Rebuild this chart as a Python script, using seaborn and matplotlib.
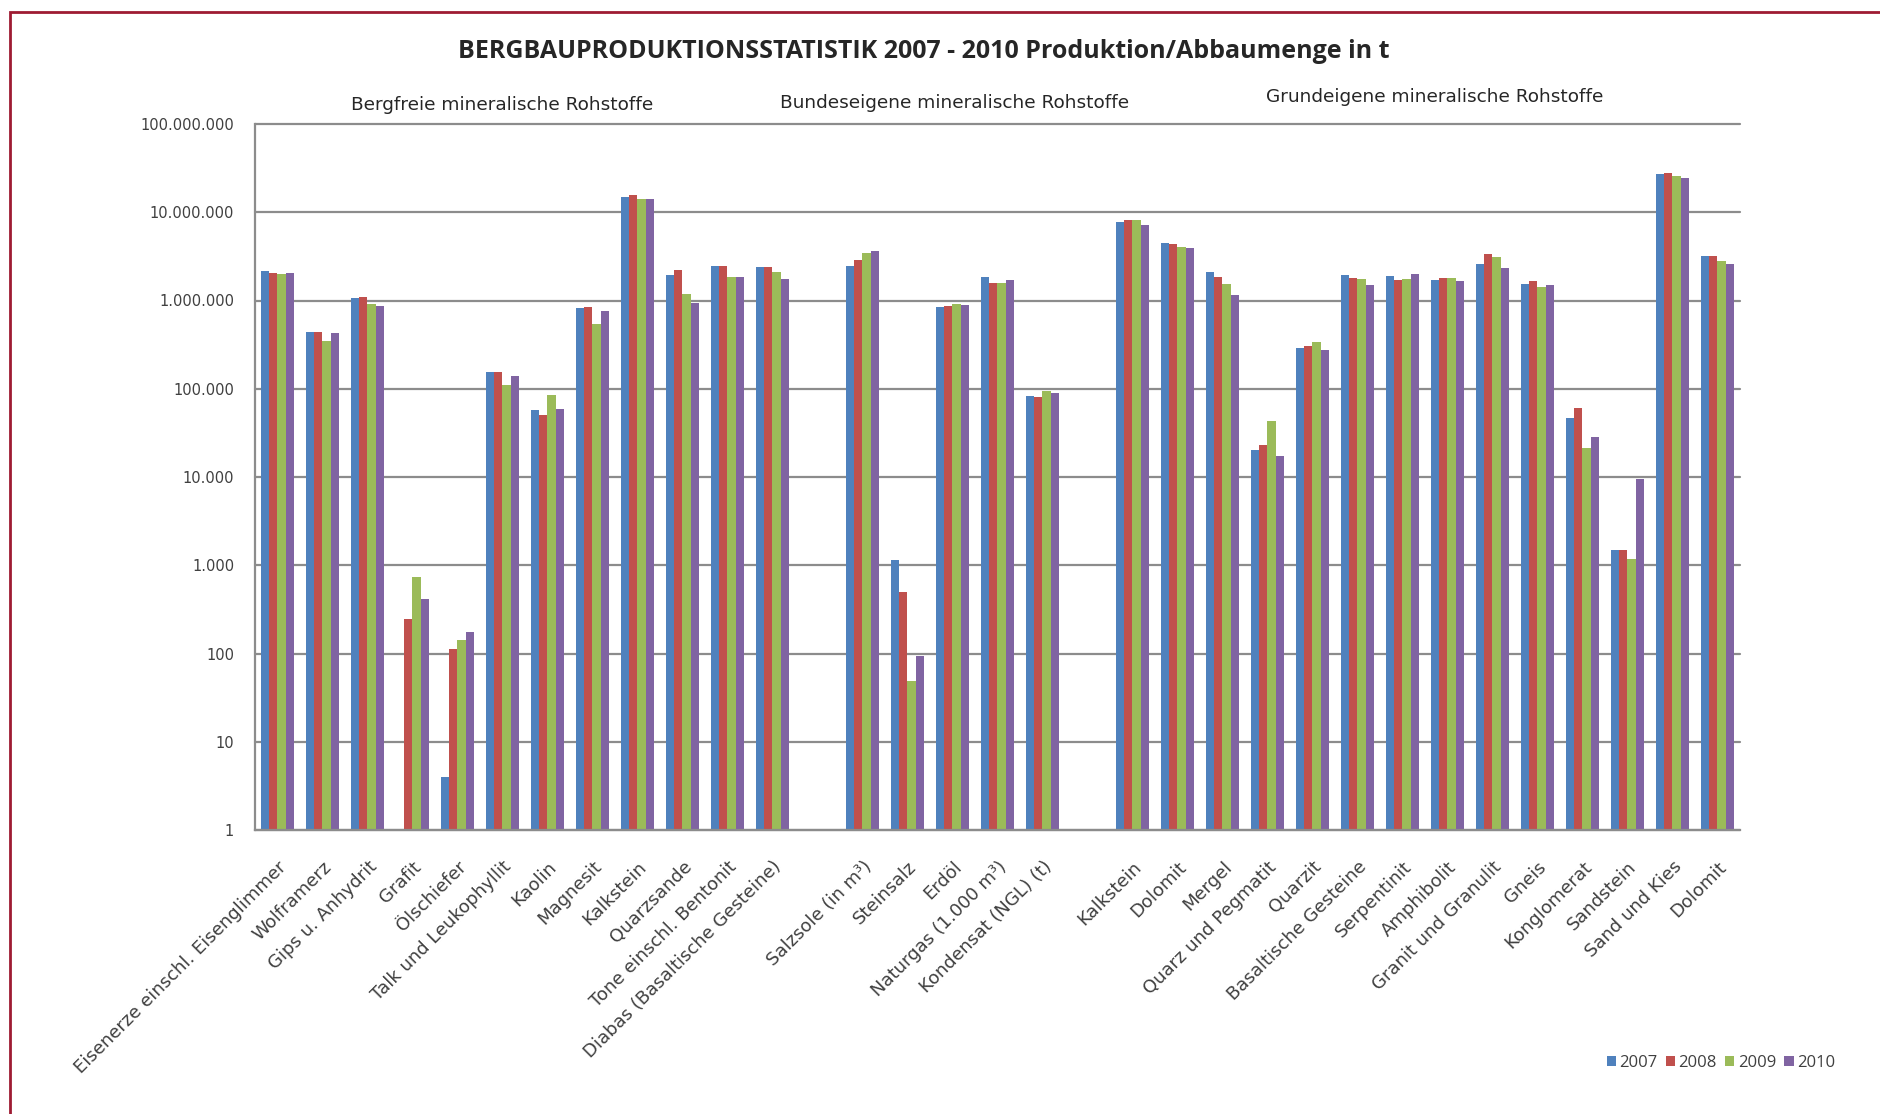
import numpy as np
import pandas as pd
import matplotlib
matplotlib.use("Agg")
import matplotlib.pyplot as plt
from matplotlib.ticker import FixedLocator, FuncFormatter, NullLocator
from matplotlib.patches import Rectangle
import seaborn as sns

# categories per group (empty slot between groups)
bergfrei = ["Eisenerze einschl. Eisenglimmer", "Wolframerz", "Gips u. Anhydrit", "Grafit",
            "Ölschiefer", "Talk und Leukophyllit", "Kaolin", "Magnesit", "Kalkstein",
            "Quarzsande", "Tone einschl. Bentonit", "Diabas (Basaltische Gesteine)"]
bundeseigen = ["Salzsole (in m³)", "Steinsalz", "Erdöl", "Naturgas (1.000 m³)", "Kondensat (NGL) (t)"]
grundeigen = ["Kalkstein", "Dolomit", "Mergel", "Quarz und Pegmatit", "Quarzit",
              "Basaltische Gesteine", "Serpentinit", "Amphibolit", "Granit und Granulit",
              "Gneis", "Konglomerat", "Sandstein", "Sand und Kies", "Dolomit"]

years = ["2007", "2008", "2009", "2010"]
colors = ["#4F81BD", "#C0504D", "#9BBB59", "#8064A2"]

# values (t), same order as the categories above
v2007 = [2150000, 438000, 1060000, np.nan, 4, 153000, 56900, 812000, 15000000, 1920000, 2470000, 2370000,
         2470000, 1148, 855000, 1840000, 83300,
         7780000, 4460000, 2110000, 20400, 291000, 1920000, 1880000, 1700000, 2600000, 1550000, 46500, 1479, 26900000, 3230000]
v2008 = [2040000, 438000, 1090000, 249, 112, 153000, 49900, 840000, 15600000, 2190000, 2470000, 2410000,
         2910000, 495, 871000, 1560000, 80500,
         8270000, 4420000, 1840000, 23200, 304000, 1810000, 1700000, 1810000, 3350000, 1670000, 60400, 1479, 27900000, 3170000]
v2009 = [2000000, 347000, 917000, 744, 142, 111000, 84700, 544000, 14000000, 1200000, 1870000, 2090000,
         3460000, 49, 908000, 1570000, 93300,
         8120000, 4020000, 1520000, 43100, 335000, 1760000, 1760000, 1790000, 3100000, 1430000, 21100, 1180, 25800000, 2790000]
v2010 = [2070000, 431000, 877000, 416, 173, 139000, 58900, 757000, 14000000, 941000, 1870000, 1760000,
         3620000, 93, 878000, 1710000, 89300,
         7190000, 3910000, 1160000, 17300, 277000, 1480000, 2020000, 1670000, 2340000, 1500000, 28400, 9410, 24300000, 2620000]

# slot labels incl. the blank slots between the groups
labels = bergfrei + [""] + bundeseigen + [""] + grundeigen
slot_ids = [f"s{i:02d}" for i in range(len(labels))]
data_slots = [s for s, l in zip(slot_ids, labels) if l]

rows = []
for yr, vals in zip(years, [v2007, v2008, v2009, v2010]):
    for s, v in zip(data_slots, vals):
        rows.append({"slot": s, "year": yr, "value": v})
df = pd.DataFrame(rows).dropna()

sns.set_style("white")
plt.rcParams["font.family"] = ["DejaVu Sans"]

fig = plt.figure(figsize=(18.81, 11.14), dpi=100)
ax = fig.add_axes([255 / 1881, 1 - 830 / 1114, (1740 - 255) / 1881, (830 - 124) / 1114])

sns.barplot(data=df, x="slot", y="value", hue="year", order=slot_ids, hue_order=years,
            palette=colors, saturation=1, width=0.72, linewidth=0,
            errorbar=None, ax=ax)

ax.set_yscale("log")
ax.set_ylim(1, 1e8)
ax.set_xlim(-0.5, len(labels) - 0.5)
ax.yaxis.set_major_locator(FixedLocator([10 ** k for k in range(9)]))
ax.yaxis.set_minor_locator(NullLocator())
ax.yaxis.set_major_formatter(FuncFormatter(lambda v, _: f"{int(round(v)):,}".replace(",", ".")))
ax.yaxis.grid(True, color="#8C8C8C", lw=1.6)
ax.xaxis.grid(False)
ax.set_axisbelow(True)
for gl in ax.get_ygridlines():
    gl.set_clip_on(False)

ax.set_xticks(range(len(labels)))
ax.set_xticklabels(labels, rotation=45, ha="right", rotation_mode="anchor",
                   fontsize=13, color="#404040")
ax.set_xticks(np.arange(-0.5, len(labels)), minor=True)
ax.tick_params(axis="x", which="major", length=0, pad=20)
ax.tick_params(axis="x", which="minor", length=6, width=1.5, color="#8C8C8C", direction="out")
ax.tick_params(axis="y", which="major", length=6, width=1.5, color="#8C8C8C", direction="out",
               labelsize=10.5, labelcolor="#404040", pad=9)
ax.set_xlabel("")
ax.set_ylabel("")

for side in ["top", "right"]:
    ax.spines[side].set_visible(False)
for side in ["left", "bottom"]:
    ax.spines[side].set_color("#8C8C8C")
    ax.spines[side].set_linewidth(1.6)

# legend bottom right
handles, leg_labels = ax.get_legend_handles_labels()
if ax.get_legend() is not None:
    ax.get_legend().remove()
fig.legend(handles, leg_labels, loc="center right", bbox_to_anchor=(1850 / 1881, 1 - 1063 / 1114),
           ncol=4, frameon=False, handlelength=0.55, handleheight=0.55, handletextpad=0.2,
           columnspacing=0.5, prop={"family": "Open Sans", "size": 12}, labelcolor="#404040")

# titles
fig.text(924 / 1881, 1 - 52 / 1114, "BERGBAUPRODUKTIONSSTATISTIK 2007 - 2010 Produktion/Abbaumenge in t",
         ha="center", va="center", fontsize=18, fontweight="bold", family="Open Sans")
fig.text(502 / 1881, 1 - 105 / 1114, "Bergfreie mineralische Rohstoffe", ha="center", va="center", fontsize=13.3)
fig.text(955 / 1881, 1 - 103 / 1114, "Bundeseigene mineralische Rohstoffe", ha="center", va="center", fontsize=13.3)
fig.text(1435 / 1881, 1 - 97 / 1114, "Grundeigene mineralische Rohstoffe", ha="center", va="center", fontsize=13.3)

# chart frame (only top/left edge visible in the original crop)
fig.patches.append(Rectangle((10 / 1881, -0.1), 1.2, 1.1 - 12 / 1114, transform=fig.transFigure,
                             fill=False, edgecolor="#9E1B32", lw=2, figure=fig))

fig.savefig("out.png", dpi=100)
